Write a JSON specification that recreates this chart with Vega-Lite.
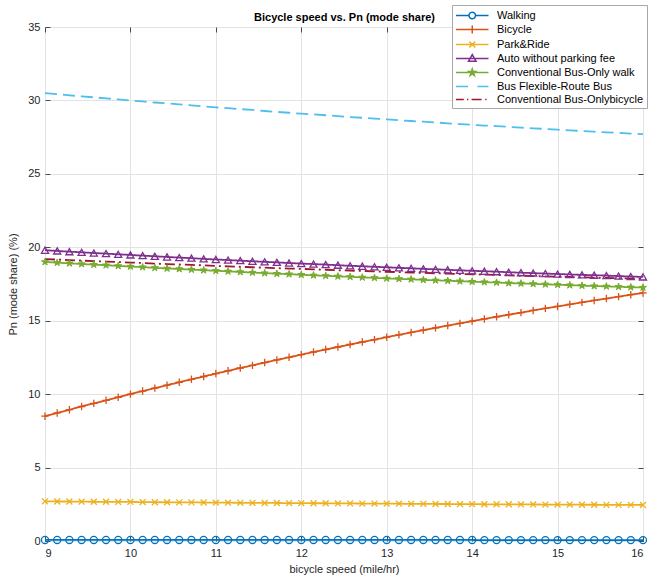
{
  "$schema": "https://vega.github.io/schema/vega-lite/v6.json",
  "width": 598,
  "height": 514,
  "autosize": {"type": "none"},
  "padding": {"left": 45, "top": 27, "right": 6, "bottom": 42},
  "background": "white",
  "config": {
    "font": "Liberation Sans",
    "view": {"stroke": "#4a4a4a", "strokeWidth": 1},
    "axis": {"domain": false, "labelFont": "Liberation Sans", "labelFontSize": 11, "labelColor": "#262626", "titleFont": "Liberation Sans", "titleFontSize": 11, "titleFontWeight": "normal", "titleColor": "#262626", "tickColor": "#4a4a4a", "gridColor": "#e3e3e3", "gridWidth": 1}
  },
  "data": {"values": [
    {"x": 9, "Walking": 0.07, "Bicycle": 8.50, "Park&Ride": 2.70, "Auto without parking fee": 19.80, "Conventional Bus-Only walk": 19.00, "Bus Flexible-Route Bus": 30.50, "Conventional Bus-Onlybicycle": 19.20},
    {"x": 9.1429, "Walking": 0.07, "Bicycle": 8.72, "Park&Ride": 2.69, "Auto without parking fee": 19.75, "Conventional Bus-Only walk": 18.95, "Bus Flexible-Route Bus": 30.43, "Conventional Bus-Onlybicycle": 19.16},
    {"x": 9.2857, "Walking": 0.07, "Bicycle": 8.94, "Park&Ride": 2.69, "Auto without parking fee": 19.70, "Conventional Bus-Only walk": 18.91, "Bus Flexible-Route Bus": 30.35, "Conventional Bus-Onlybicycle": 19.13},
    {"x": 9.4286, "Walking": 0.07, "Bicycle": 9.16, "Park&Ride": 2.68, "Auto without parking fee": 19.66, "Conventional Bus-Only walk": 18.86, "Bus Flexible-Route Bus": 30.28, "Conventional Bus-Onlybicycle": 19.09},
    {"x": 9.5714, "Walking": 0.07, "Bicycle": 9.37, "Park&Ride": 2.67, "Auto without parking fee": 19.61, "Conventional Bus-Only walk": 18.82, "Bus Flexible-Route Bus": 30.21, "Conventional Bus-Onlybicycle": 19.06},
    {"x": 9.7143, "Walking": 0.07, "Bicycle": 9.58, "Park&Ride": 2.67, "Auto without parking fee": 19.57, "Conventional Bus-Only walk": 18.78, "Bus Flexible-Route Bus": 30.14, "Conventional Bus-Onlybicycle": 19.03},
    {"x": 9.8571, "Walking": 0.07, "Bicycle": 9.79, "Park&Ride": 2.66, "Auto without parking fee": 19.52, "Conventional Bus-Only walk": 18.73, "Bus Flexible-Route Bus": 30.07, "Conventional Bus-Onlybicycle": 18.99},
    {"x": 10, "Walking": 0.07, "Bicycle": 10.00, "Park&Ride": 2.66, "Auto without parking fee": 19.48, "Conventional Bus-Only walk": 18.69, "Bus Flexible-Route Bus": 30.00, "Conventional Bus-Onlybicycle": 18.96},
    {"x": 10.1429, "Walking": 0.07, "Bicycle": 10.21, "Park&Ride": 2.65, "Auto without parking fee": 19.43, "Conventional Bus-Only walk": 18.65, "Bus Flexible-Route Bus": 29.93, "Conventional Bus-Onlybicycle": 18.93},
    {"x": 10.2857, "Walking": 0.07, "Bicycle": 10.41, "Park&Ride": 2.64, "Auto without parking fee": 19.39, "Conventional Bus-Only walk": 18.60, "Bus Flexible-Route Bus": 29.86, "Conventional Bus-Onlybicycle": 18.89},
    {"x": 10.4286, "Walking": 0.07, "Bicycle": 10.61, "Park&Ride": 2.64, "Auto without parking fee": 19.34, "Conventional Bus-Only walk": 18.56, "Bus Flexible-Route Bus": 29.80, "Conventional Bus-Onlybicycle": 18.86},
    {"x": 10.5714, "Walking": 0.07, "Bicycle": 10.81, "Park&Ride": 2.63, "Auto without parking fee": 19.30, "Conventional Bus-Only walk": 18.52, "Bus Flexible-Route Bus": 29.73, "Conventional Bus-Onlybicycle": 18.83},
    {"x": 10.7143, "Walking": 0.07, "Bicycle": 11.01, "Park&Ride": 2.63, "Auto without parking fee": 19.26, "Conventional Bus-Only walk": 18.48, "Bus Flexible-Route Bus": 29.66, "Conventional Bus-Onlybicycle": 18.80},
    {"x": 10.8571, "Walking": 0.07, "Bicycle": 11.20, "Park&Ride": 2.62, "Auto without parking fee": 19.21, "Conventional Bus-Only walk": 18.44, "Bus Flexible-Route Bus": 29.60, "Conventional Bus-Onlybicycle": 18.77},
    {"x": 11, "Walking": 0.07, "Bicycle": 11.40, "Park&Ride": 2.61, "Auto without parking fee": 19.17, "Conventional Bus-Only walk": 18.40, "Bus Flexible-Route Bus": 29.53, "Conventional Bus-Onlybicycle": 18.73},
    {"x": 11.1429, "Walking": 0.07, "Bicycle": 11.59, "Park&Ride": 2.61, "Auto without parking fee": 19.13, "Conventional Bus-Only walk": 18.36, "Bus Flexible-Route Bus": 29.47, "Conventional Bus-Onlybicycle": 18.70},
    {"x": 11.2857, "Walking": 0.07, "Bicycle": 11.78, "Park&Ride": 2.60, "Auto without parking fee": 19.09, "Conventional Bus-Only walk": 18.32, "Bus Flexible-Route Bus": 29.41, "Conventional Bus-Onlybicycle": 18.67},
    {"x": 11.4286, "Walking": 0.07, "Bicycle": 11.96, "Park&Ride": 2.60, "Auto without parking fee": 19.05, "Conventional Bus-Only walk": 18.28, "Bus Flexible-Route Bus": 29.35, "Conventional Bus-Onlybicycle": 18.64},
    {"x": 11.5714, "Walking": 0.07, "Bicycle": 12.15, "Park&Ride": 2.59, "Auto without parking fee": 19.01, "Conventional Bus-Only walk": 18.24, "Bus Flexible-Route Bus": 29.28, "Conventional Bus-Onlybicycle": 18.61},
    {"x": 11.7143, "Walking": 0.07, "Bicycle": 12.33, "Park&Ride": 2.59, "Auto without parking fee": 18.97, "Conventional Bus-Only walk": 18.20, "Bus Flexible-Route Bus": 29.22, "Conventional Bus-Onlybicycle": 18.58},
    {"x": 11.8571, "Walking": 0.07, "Bicycle": 12.51, "Park&Ride": 2.58, "Auto without parking fee": 18.93, "Conventional Bus-Only walk": 18.17, "Bus Flexible-Route Bus": 29.16, "Conventional Bus-Onlybicycle": 18.55},
    {"x": 12, "Walking": 0.07, "Bicycle": 12.69, "Park&Ride": 2.58, "Auto without parking fee": 18.89, "Conventional Bus-Only walk": 18.13, "Bus Flexible-Route Bus": 29.10, "Conventional Bus-Onlybicycle": 18.53},
    {"x": 12.1429, "Walking": 0.07, "Bicycle": 12.87, "Park&Ride": 2.57, "Auto without parking fee": 18.86, "Conventional Bus-Only walk": 18.09, "Bus Flexible-Route Bus": 29.05, "Conventional Bus-Onlybicycle": 18.50},
    {"x": 12.2857, "Walking": 0.07, "Bicycle": 13.04, "Park&Ride": 2.57, "Auto without parking fee": 18.82, "Conventional Bus-Only walk": 18.06, "Bus Flexible-Route Bus": 28.99, "Conventional Bus-Onlybicycle": 18.47},
    {"x": 12.4286, "Walking": 0.07, "Bicycle": 13.21, "Park&Ride": 2.56, "Auto without parking fee": 18.78, "Conventional Bus-Only walk": 18.02, "Bus Flexible-Route Bus": 28.93, "Conventional Bus-Onlybicycle": 18.44},
    {"x": 12.5714, "Walking": 0.07, "Bicycle": 13.38, "Park&Ride": 2.56, "Auto without parking fee": 18.74, "Conventional Bus-Only walk": 17.99, "Bus Flexible-Route Bus": 28.87, "Conventional Bus-Onlybicycle": 18.41},
    {"x": 12.7143, "Walking": 0.07, "Bicycle": 13.55, "Park&Ride": 2.55, "Auto without parking fee": 18.71, "Conventional Bus-Only walk": 17.95, "Bus Flexible-Route Bus": 28.82, "Conventional Bus-Onlybicycle": 18.39},
    {"x": 12.8571, "Walking": 0.07, "Bicycle": 13.71, "Park&Ride": 2.55, "Auto without parking fee": 18.67, "Conventional Bus-Only walk": 17.92, "Bus Flexible-Route Bus": 28.76, "Conventional Bus-Onlybicycle": 18.36},
    {"x": 13, "Walking": 0.07, "Bicycle": 13.88, "Park&Ride": 2.54, "Auto without parking fee": 18.64, "Conventional Bus-Only walk": 17.88, "Bus Flexible-Route Bus": 28.71, "Conventional Bus-Onlybicycle": 18.33},
    {"x": 13.1429, "Walking": 0.07, "Bicycle": 14.04, "Park&Ride": 2.54, "Auto without parking fee": 18.60, "Conventional Bus-Only walk": 17.85, "Bus Flexible-Route Bus": 28.65, "Conventional Bus-Onlybicycle": 18.31},
    {"x": 13.2857, "Walking": 0.07, "Bicycle": 14.20, "Park&Ride": 2.53, "Auto without parking fee": 18.57, "Conventional Bus-Only walk": 17.82, "Bus Flexible-Route Bus": 28.60, "Conventional Bus-Onlybicycle": 18.28},
    {"x": 13.4286, "Walking": 0.07, "Bicycle": 14.36, "Park&Ride": 2.53, "Auto without parking fee": 18.53, "Conventional Bus-Only walk": 17.78, "Bus Flexible-Route Bus": 28.55, "Conventional Bus-Onlybicycle": 18.26},
    {"x": 13.5714, "Walking": 0.07, "Bicycle": 14.51, "Park&Ride": 2.52, "Auto without parking fee": 18.50, "Conventional Bus-Only walk": 17.75, "Bus Flexible-Route Bus": 28.50, "Conventional Bus-Onlybicycle": 18.23},
    {"x": 13.7143, "Walking": 0.07, "Bicycle": 14.67, "Park&Ride": 2.52, "Auto without parking fee": 18.47, "Conventional Bus-Only walk": 17.72, "Bus Flexible-Route Bus": 28.44, "Conventional Bus-Onlybicycle": 18.21},
    {"x": 13.8571, "Walking": 0.07, "Bicycle": 14.82, "Park&Ride": 2.51, "Auto without parking fee": 18.43, "Conventional Bus-Only walk": 17.69, "Bus Flexible-Route Bus": 28.39, "Conventional Bus-Onlybicycle": 18.18},
    {"x": 14, "Walking": 0.07, "Bicycle": 14.97, "Park&Ride": 2.51, "Auto without parking fee": 18.40, "Conventional Bus-Only walk": 17.66, "Bus Flexible-Route Bus": 28.34, "Conventional Bus-Onlybicycle": 18.16},
    {"x": 14.1429, "Walking": 0.06, "Bicycle": 15.12, "Park&Ride": 2.50, "Auto without parking fee": 18.37, "Conventional Bus-Only walk": 17.63, "Bus Flexible-Route Bus": 28.29, "Conventional Bus-Onlybicycle": 18.14},
    {"x": 14.2857, "Walking": 0.06, "Bicycle": 15.27, "Park&Ride": 2.50, "Auto without parking fee": 18.34, "Conventional Bus-Only walk": 17.60, "Bus Flexible-Route Bus": 28.25, "Conventional Bus-Onlybicycle": 18.11},
    {"x": 14.4286, "Walking": 0.06, "Bicycle": 15.41, "Park&Ride": 2.50, "Auto without parking fee": 18.30, "Conventional Bus-Only walk": 17.56, "Bus Flexible-Route Bus": 28.20, "Conventional Bus-Onlybicycle": 18.09},
    {"x": 14.5714, "Walking": 0.06, "Bicycle": 15.55, "Park&Ride": 2.49, "Auto without parking fee": 18.27, "Conventional Bus-Only walk": 17.54, "Bus Flexible-Route Bus": 28.15, "Conventional Bus-Onlybicycle": 18.07},
    {"x": 14.7143, "Walking": 0.06, "Bicycle": 15.70, "Park&Ride": 2.49, "Auto without parking fee": 18.24, "Conventional Bus-Only walk": 17.51, "Bus Flexible-Route Bus": 28.10, "Conventional Bus-Onlybicycle": 18.04},
    {"x": 14.8571, "Walking": 0.06, "Bicycle": 15.84, "Park&Ride": 2.48, "Auto without parking fee": 18.21, "Conventional Bus-Only walk": 17.48, "Bus Flexible-Route Bus": 28.06, "Conventional Bus-Onlybicycle": 18.02},
    {"x": 15, "Walking": 0.06, "Bicycle": 15.97, "Park&Ride": 2.48, "Auto without parking fee": 18.18, "Conventional Bus-Only walk": 17.45, "Bus Flexible-Route Bus": 28.01, "Conventional Bus-Onlybicycle": 18.00},
    {"x": 15.1429, "Walking": 0.06, "Bicycle": 16.11, "Park&Ride": 2.48, "Auto without parking fee": 18.15, "Conventional Bus-Only walk": 17.42, "Bus Flexible-Route Bus": 27.96, "Conventional Bus-Onlybicycle": 17.98},
    {"x": 15.2857, "Walking": 0.06, "Bicycle": 16.25, "Park&Ride": 2.47, "Auto without parking fee": 18.12, "Conventional Bus-Only walk": 17.39, "Bus Flexible-Route Bus": 27.92, "Conventional Bus-Onlybicycle": 17.95},
    {"x": 15.4286, "Walking": 0.06, "Bicycle": 16.38, "Park&Ride": 2.47, "Auto without parking fee": 18.10, "Conventional Bus-Only walk": 17.36, "Bus Flexible-Route Bus": 27.87, "Conventional Bus-Onlybicycle": 17.93},
    {"x": 15.5714, "Walking": 0.06, "Bicycle": 16.51, "Park&Ride": 2.46, "Auto without parking fee": 18.07, "Conventional Bus-Only walk": 17.34, "Bus Flexible-Route Bus": 27.83, "Conventional Bus-Onlybicycle": 17.91},
    {"x": 15.7143, "Walking": 0.06, "Bicycle": 16.64, "Park&Ride": 2.46, "Auto without parking fee": 18.04, "Conventional Bus-Only walk": 17.31, "Bus Flexible-Route Bus": 27.79, "Conventional Bus-Onlybicycle": 17.89},
    {"x": 15.8571, "Walking": 0.06, "Bicycle": 16.77, "Park&Ride": 2.46, "Auto without parking fee": 18.01, "Conventional Bus-Only walk": 17.28, "Bus Flexible-Route Bus": 27.74, "Conventional Bus-Onlybicycle": 17.87},
    {"x": 16, "Walking": 0.06, "Bicycle": 16.89, "Park&Ride": 2.45, "Auto without parking fee": 17.98, "Conventional Bus-Only walk": 17.26, "Bus Flexible-Route Bus": 27.70, "Conventional Bus-Onlybicycle": 17.85}
  ]},
  "transform": [
    {"fold": ["Walking", "Bicycle", "Park&Ride", "Auto without parking fee", "Conventional Bus-Only walk", "Bus Flexible-Route Bus", "Conventional Bus-Onlybicycle"], "as": ["mode", "share"]}
  ],
  "layer": [
    {
      "mark": {"type": "line", "strokeWidth": 1.8},
      "encoding": {
        "x": {"field": "x", "type": "quantitative", "scale": {"domain": [9, 16], "nice": false, "zero": false},
              "axis": {"orient": "bottom", "values": [9, 10, 11, 12, 13, 14, 15, 16], "grid": true, "tickSize": -5, "labelPadding": 11, "title": "bicycle speed (mile/hr)", "titlePadding": 5}},
        "y": {"field": "share", "type": "quantitative", "scale": {"domain": [0, 35], "nice": false},
              "axis": {"orient": "left", "values": [0, 5, 10, 15, 20, 25, 30, 35], "grid": true, "tickSize": -5, "labelPadding": 10, "title": "Pn (mode share) (%)", "titlePadding": 9}},
        "color": {"field": "mode", "type": "nominal",
                  "scale": {"domain": ["Walking", "Bicycle", "Park&Ride", "Auto without parking fee", "Conventional Bus-Only walk", "Bus Flexible-Route Bus", "Conventional Bus-Onlybicycle"],
                            "range": ["#0072BD", "#D95319", "#EDB120", "#7E2F8E", "#77AC30", "#4DBEEE", "#A2142F"]},
                  "legend": {"orient": "none", "legendX": 407, "legendY": -22, "title": null, "direction": "vertical",
                             "fillColor": "white", "strokeColor": "#a8a8a8", "padding": 3, "rowPadding": 0,
                             "symbolSize": 169, "symbolStrokeWidth": 1.5, "labelFont": "Liberation Sans", "labelFontSize": 11, "labelColor": "#000000", "labelOffset": 27, "labelLimit": 300,
                             "encode": {"symbols": {"update": {
                               "shape": {"signal": "['M-1,0L1,0M2,0L4,0M1,0A0.5,0.5 0 1 1 2,0A0.5,0.5 0 1 1 1,0', 'M-1,0L4,0M1.5,-0.6L1.5,0.6', 'M-1,0L4,0M1.05,-0.45L1.95,0.45M1.05,0.45L1.95,-0.45', 'M-1,0L4,0M1.5,-0.6L2.08,0.42L0.92,0.42Z', 'M-1,0L4,0M1.5,-0.55L1.62,-0.17L2.02,-0.17L1.7,0.07L1.82,0.45L1.5,0.21L1.18,0.45L1.3,0.07L0.98,-0.17L1.38,-0.17Z', 'M-1,0L1,0M2.3,0L4,0', 'M-1,0L0.2,0M0.7,0L0.9,0M1.4,0L3,0M3.5,0L3.7,0'][indexof(domain('color'), datum.value)]"},
                               "fill": {"value": "transparent"},
                               "stroke": {"scale": "color", "field": "value"},
                               "strokeWidth": {"value": 1.5},
                               "strokeDash": {"value": [1, 0]},
                               "opacity": {"value": 1}
                             }}}}},
        "strokeDash": {"field": "mode", "type": "nominal",
                       "scale": {"domain": ["Walking", "Bicycle", "Park&Ride", "Auto without parking fee", "Conventional Bus-Only walk", "Bus Flexible-Route Bus", "Conventional Bus-Onlybicycle"],
                                 "range": [[1, 0], [1, 0], [1, 0], [1, 0], [1, 0], [12, 6], [10, 4, 2, 4]]},
                       "legend": null}
      }
    },
    {
      "transform": [{"filter": {"field": "mode", "equal": "Walking"}}],
      "mark": {"type": "point", "shape": "circle", "filled": false, "stroke": "#0072BD", "strokeWidth": 1.3, "size": 50, "opacity": 1},
      "encoding": {
        "x": {"field": "x", "type": "quantitative", "scale": {"domain": [9, 16], "nice": false, "zero": false},
              "axis": {"orient": "top", "values": [9, 10, 11, 12, 13, 14, 15, 16], "labels": false, "grid": false, "tickSize": -5, "title": "Bicycle speed vs. Pn (mode share)", "titleFontWeight": "bold", "titleColor": "#000000", "titleFontSize": 11, "titlePadding": 4}},
        "y": {"field": "share", "type": "quantitative", "scale": {"domain": [0, 35], "nice": false},
              "axis": {"orient": "right", "values": [0, 5, 10, 15, 20, 25, 30, 35], "labels": false, "grid": false, "tickSize": -5, "title": null}}
      }
    },
    {
      "transform": [{"filter": {"field": "mode", "equal": "Bicycle"}}],
      "mark": {"type": "point", "shape": "M-1,0L1,0M0,-1L0,1", "filled": false, "stroke": "#D95319", "strokeWidth": 1.3, "size": 55, "opacity": 1},
      "encoding": {
        "x": {"field": "x", "type": "quantitative", "axis": null},
        "y": {"field": "share", "type": "quantitative", "axis": null}
      }
    },
    {
      "transform": [{"filter": {"field": "mode", "equal": "Park&Ride"}}],
      "mark": {"type": "point", "shape": "M-0.8,-0.8L0.8,0.8M-0.8,0.8L0.8,-0.8", "filled": false, "stroke": "#EDB120", "strokeWidth": 1.3, "size": 55, "opacity": 1},
      "encoding": {
        "x": {"field": "x", "type": "quantitative", "axis": null},
        "y": {"field": "share", "type": "quantitative", "axis": null}
      }
    },
    {
      "transform": [{"filter": {"field": "mode", "equal": "Auto without parking fee"}}],
      "mark": {"type": "point", "shape": "triangle-up", "filled": false, "stroke": "#7E2F8E", "strokeWidth": 1.3, "size": 50, "opacity": 1},
      "encoding": {
        "x": {"field": "x", "type": "quantitative", "axis": null},
        "y": {"field": "share", "type": "quantitative", "axis": null}
      }
    },
    {
      "transform": [{"filter": {"field": "mode", "equal": "Conventional Bus-Only walk"}}],
      "mark": {"type": "point", "shape": "M0,-1L0.2245,-0.309L0.951,-0.309L0.363,0.118L0.588,0.809L0,0.382L-0.588,0.809L-0.363,0.118L-0.951,-0.309L-0.2245,-0.309Z", "filled": true, "fill": "#77AC30", "stroke": "#77AC30", "strokeWidth": 1, "size": 55, "opacity": 1},
      "encoding": {
        "x": {"field": "x", "type": "quantitative", "axis": null},
        "y": {"field": "share", "type": "quantitative", "axis": null}
      }
    }
  ],
  "resolve": {"axis": {"x": "independent", "y": "independent"}}
}
